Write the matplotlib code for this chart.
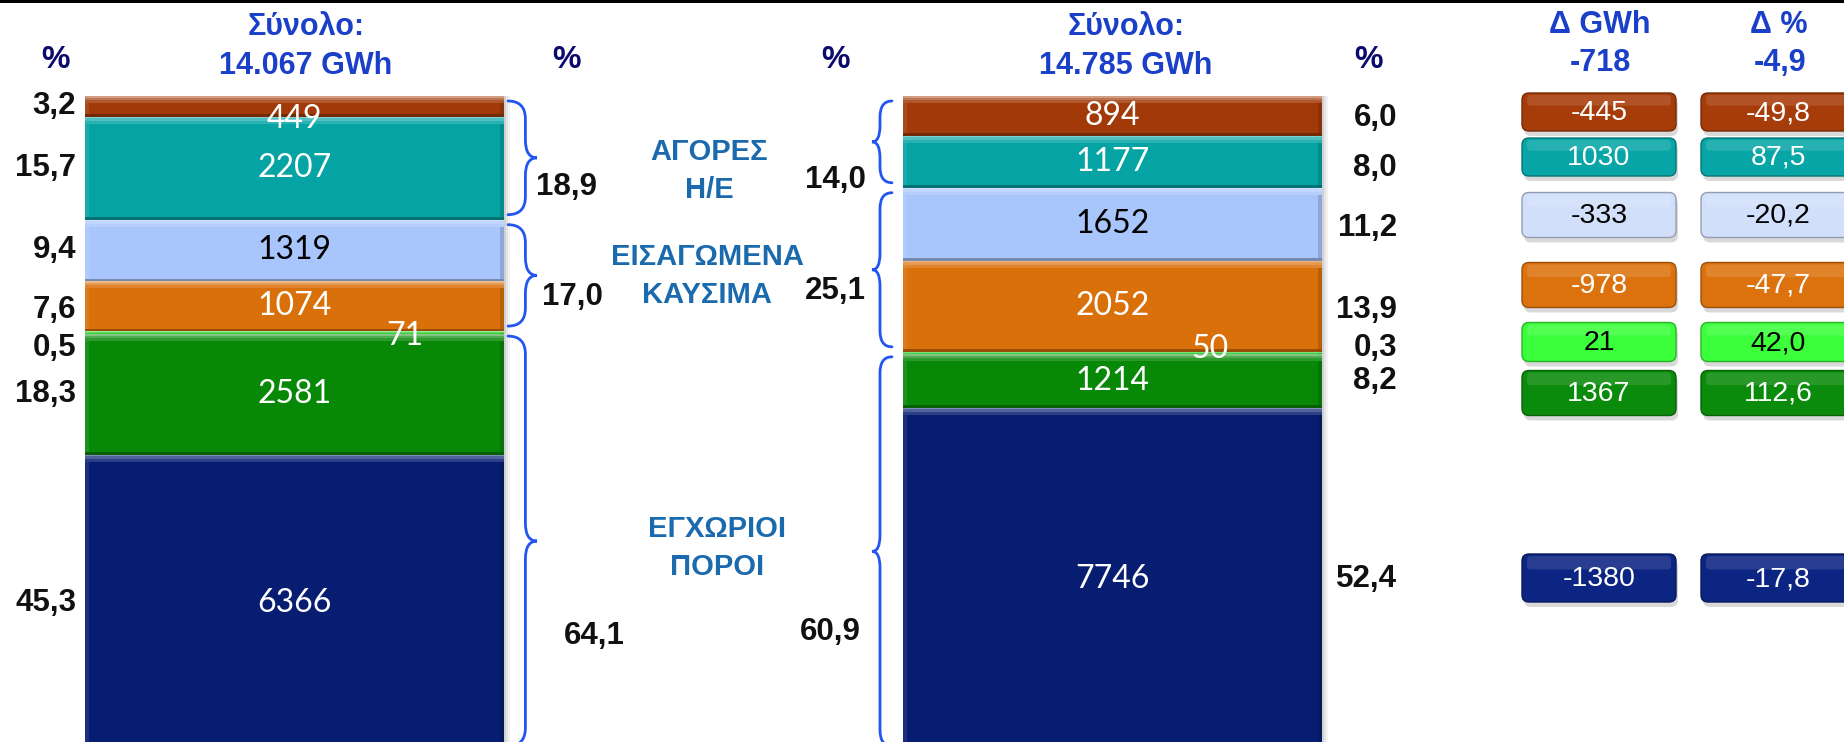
"""
Electricity supply mix: two stacked 100% bars with group braces and a change table.
"""
import matplotlib.pyplot as plt
import numpy as np
from matplotlib.patches import FancyBboxPatch, Rectangle, PathPatch
from matplotlib.path import Path
from matplotlib.colors import to_rgb

# ---- data (top segment first) ----
segments = ['seg1', 'seg2', 'seg3', 'seg4', 'seg5', 'seg6', 'seg7']
gwh_current = [449, 2207, 1319, 1074, 71, 2581, 6366]
gwh_previous = [894, 1177, 1652, 2052, 50, 1214, 7746]
pct_current = ['3,2', '15,7', '9,4', '7,6', '0,5', '18,3', '45,3']
pct_previous = ['6,0', '8,0', '11,2', '13,9', '0,3', '8,2', '52,4']
delta_gwh = [-445, 1030, -333, -978, 21, 1367, -1380]
delta_pct = [-49.8, 87.5, -20.2, -47.7, 42.0, 112.6, -17.8]

total_current = '14.067 GWh'
total_previous = '14.785 GWh'
total_delta_gwh = '-718'
total_delta_pct = '-4,9'

groups = [[0, 1], [2, 3], [4, 5, 6]]
group_names = [('ΑΓΟΡΕΣ', 'Η/Ε'), ('ΕΙΣΑΓΩΜΕΝΑ', 'ΚΑΥΣΙΜΑ'), ('ΕΓΧΩΡΙΟΙ', 'ΠΟΡΟΙ')]
group_pct_current = ['18,9', '17,0', '64,1']
group_pct_previous = ['14,0', '25,1', '60,9']

# ---- styles / layout ----
W, H = 1844, 742
bar_colors = ['#A13A08', '#05A3A3', '#A8C5FC', '#D9700A', '#3FD43F', '#078807', '#061D72']
box_colors = ['#A63C0A', '#08A5A6', '#D2DFFB', '#DC720E', '#3CFF3C', '#0B8B0B', '#0C2482']
dark_text = [False, False, True, False, True, False, False]
box_rows_y = [112, 157, 215, 285, 342, 393, 578]
box_rows_h = [38, 38, 45, 45, 39, 45, 48]
box_cols_x = [1599, 1778]
box_w = 154

pct_dy_current = [0, 0, 0, 4, 15, 0, 0]      # px, down
pct_dy_previous = [2, 6, 4, 4, -5, 0, 0]
val_off_current = {0: (0, 13), 4: (110, 3)}  # px (dx, dy down)
val_off_previous = {4: (97, -4)}

HDR_BLUE = '#1A3FC8'
PCT_NAVY = '#0B0B6E'
GROUP_BLUE = '#1B6AAE'
BRACE_BLUE = '#2356F0'
BOLD_FONT = ['Liberation Sans', 'DejaVu Sans']

plt.rcParams['font.family'] = BOLD_FONT


def mix(c, other, t):
    c = np.array(to_rgb(c))
    return tuple(c + (np.array(to_rgb(other)) - c) * t)


def brace(ax, x_end, x_tip, y0, y1, r=17, color=BRACE_BLUE, lw=2.0):
    sp = x_end + (x_tip - x_end) * 0.6
    ym = (y0 + y1) / 2
    verts = [(x_end, y0), (sp, y0), (sp, y0 + r), (sp, ym - r), (sp, ym), (x_tip, ym),
             (sp, ym), (sp, ym + r), (sp, y1 - r), (sp, y1), (x_end, y1)]
    codes = [Path.MOVETO, Path.CURVE3, Path.CURVE3, Path.LINETO, Path.CURVE3, Path.CURVE3,
             Path.CURVE3, Path.CURVE3, Path.LINETO, Path.CURVE3, Path.CURVE3]
    ax.add_patch(PathPatch(Path(verts, codes), fill=False, ec=color, lw=lw, capstyle='round'))


fig = plt.figure(figsize=(W / 100, H / 100), dpi=100)

# bars: 100% at pixel 96, 0% at pixel 751 (slightly below the picture)
top_px, bot_px = 96, 751
ax = fig.add_axes([0, (H - bot_px) / H, 1, (bot_px - top_px) / H])
px_unit = 818.0
ax.set_xlim(-294.5 / px_unit, (W - 294.5) / px_unit)
ax.set_ylim(0, 100)
ax.axis('off')
bw = 419 / px_unit
px_per_pct = (bot_px - top_px) / 100.0

ov = fig.add_axes([0, 0, 1, 1])
ov.set_xlim(0, W)
ov.set_ylim(H, 0)
ov.axis('off')
ov.patch.set_alpha(0)


def to_px(x, y):
    dx, dy = ax.transData.transform((x, y))
    return dx, H - dy


columns = [(0, gwh_current, pct_current, pct_dy_current, val_off_current),
           (1, gwh_previous, pct_previous, pct_dy_previous, val_off_previous)]

for x, vals, pcts, pct_dy, val_off in columns:
    vals = np.array(vals, dtype=float)
    shares = vals / vals.sum() * 100
    tops = 100 - np.concatenate([[0], np.cumsum(shares)[:-1]])
    bottoms = tops - shares

    # shadow on the right
    for k, a in enumerate([0.18, 0.10, 0.05]):
        ax.bar(x + bw / 2 + (2 * k + 1) / px_unit, 100, bottom=0, width=2 / px_unit,
               color='black', alpha=a, linewidth=0)
    ax.bar(x, shares, bottom=bottoms, width=bw, color=bar_colors, linewidth=0)
    # bevel look: light band on top, darker line at the bottom, shaded sides
    side = 4 / px_unit
    ax.bar(x - bw / 2 + side / 2, shares, bottom=bottoms, width=side,
           color=[mix(c, 'white', 0.08) for c in bar_colors], linewidth=0)
    ax.bar(x + bw / 2 - side / 2, shares, bottom=bottoms, width=side,
           color=[mix(c, 'black', 0.15) for c in bar_colors], linewidth=0)
    hl = np.minimum(shares * 0.45, 7 / px_per_pct)
    ax.bar(x, hl, bottom=tops - hl, width=bw,
           color=[mix(c, 'white', 0.15) for c in bar_colors], linewidth=0)
    hl1 = np.minimum(shares * 0.35, 4 / px_per_pct)
    ax.bar(x, hl1, bottom=tops - hl1, width=bw,
           color=[mix(c, 'white', 0.3) for c in bar_colors], linewidth=0)
    hl2 = np.minimum(shares * 0.2, 1.5 / px_per_pct)
    ax.bar(x, hl2, bottom=tops - hl2, width=bw,
           color=[mix(c, 'white', 0.5) for c in bar_colors], linewidth=0)
    dl = np.minimum(shares * 0.2, 2.5 / px_per_pct)
    ax.bar(x, dl, bottom=bottoms, width=bw,
           color=[mix(c, 'black', 0.3) for c in bar_colors], linewidth=0)

    mids = bottoms + shares / 2
    for i, v in enumerate(vals):
        dx, dy = val_off.get(i, (0, 0))
        ax.annotate(f'{int(v)}', xy=(x, mids[i]), xytext=(dx * 0.72, -dy * 0.72),
                    textcoords='offset points', ha='center', va='center',
                    fontsize=23, family=['Lato', 'DejaVu Sans'],
                    color='black' if i == 2 else 'white', zorder=5)
        if x == 0:
            ax.annotate(pcts[i], xy=(x - bw / 2, mids[i]), xytext=(-9 * 0.72, -pct_dy[i] * 0.72),
                        textcoords='offset points', ha='right', va='center',
                        fontsize=22.5, fontweight='bold', color='#111111')
        else:
            ax.annotate(pcts[i], xy=(x + bw / 2, mids[i]), xytext=(75 * 0.72, -pct_dy[i] * 0.72),
                        textcoords='offset points', ha='right', va='center',
                        fontsize=22.5, fontweight='bold', color='#111111')

    # group braces
    for g, members in enumerate(groups):
        g_top = tops[members[0]]
        g_bot = bottoms[members[-1]]
        _, y0 = to_px(x, g_top)
        _, y1 = to_px(x, g_bot)
        if x == 0:
            brace(ov, 508, 537, y0 + 5, y1 - 5, r=18)
        else:
            brace(ov, 892, 872, y0 + 5, y1 - 5, r=16)

# group percentage labels and names
grp_left_xy = [(566, 187), (572, 297), (594, 636)]
grp_right_xy = [(835, 180), (835, 291), (830, 632)]
grp_name_xy = [(709, 152), (707, 257), (717, 529)]
for g in range(3):
    ov.text(*grp_left_xy[g], group_pct_current[g], ha='center', va='center',
            fontsize=22.5, fontweight='bold', color='#111111')
    ov.text(*grp_right_xy[g], group_pct_previous[g], ha='center', va='center',
            fontsize=22.5, fontweight='bold', color='#111111')
    gx, gy = grp_name_xy[g]
    ov.text(gx, gy, group_names[g][0], ha='center', va='center',
            fontsize=21, fontweight='bold', color=GROUP_BLUE)
    ov.text(gx, gy + 38, group_names[g][1], ha='center', va='center',
            fontsize=21, fontweight='bold', color=GROUP_BLUE)

# headers
for hx in [55, 566, 835, 1368]:
    ov.text(hx, 60, '%', ha='center', va='center', fontsize=23,
            fontweight='bold', color=PCT_NAVY)
for hx, total in [(306, total_current), (1126, total_previous)]:
    ov.text(hx, 27, 'Σύνολο:', ha='center', va='center', fontsize=22,
            fontweight='bold', color=HDR_BLUE)
    ov.text(hx, 66, total, ha='center', va='center', fontsize=22,
            fontweight='bold', color=HDR_BLUE)
ov.text(1600, 25, 'Δ GWh', ha='center', va='center', fontsize=22,
        fontweight='bold', color=HDR_BLUE)
ov.text(1600, 63, total_delta_gwh, ha='center', va='center', fontsize=22,
        fontweight='bold', color=HDR_BLUE)
ov.text(1779, 25, 'Δ %', ha='center', va='center', fontsize=22,
        fontweight='bold', color=HDR_BLUE)
ov.text(1780, 63, total_delta_pct, ha='center', va='center', fontsize=22,
        fontweight='bold', color=HDR_BLUE)

# change boxes
for i in range(len(segments)):
    cy, h = box_rows_y[i], box_rows_h[i]
    labels = [f'{delta_gwh[i]}', f'{delta_pct[i]:.1f}'.replace('.', ',')]
    for cx, lab in zip(box_cols_x, labels):
        x0, y0 = cx - box_w / 2, cy - h / 2
        ov.add_patch(FancyBboxPatch((x0 + 2, y0 + 5), box_w, h,
                                    boxstyle='round,pad=0,rounding_size=7',
                                    fc='black', ec='none', alpha=0.15))
        ov.add_patch(FancyBboxPatch((x0, y0), box_w, h,
                                    boxstyle='round,pad=0,rounding_size=7',
                                    fc=box_colors[i], ec=mix(box_colors[i], 'black', 0.3), lw=1))
        ov.add_patch(FancyBboxPatch((x0 + 5, y0 + 2), box_w - 10, h * 0.28,
                                    boxstyle='round,pad=0,rounding_size=4',
                                    fc=mix(box_colors[i], 'white', 0.12), ec='none'))
        ov.text(cx, cy + 1, lab, ha='center', va='center', fontsize=20.5,
                family=['Liberation Sans', 'DejaVu Sans'],
                color='black' if dark_text[i] else 'white')

# black rule along the top
ov.add_patch(Rectangle((0, 0), W, 3, fc='black', ec='none'))

fig.savefig('out.png', dpi=100, facecolor='white')
